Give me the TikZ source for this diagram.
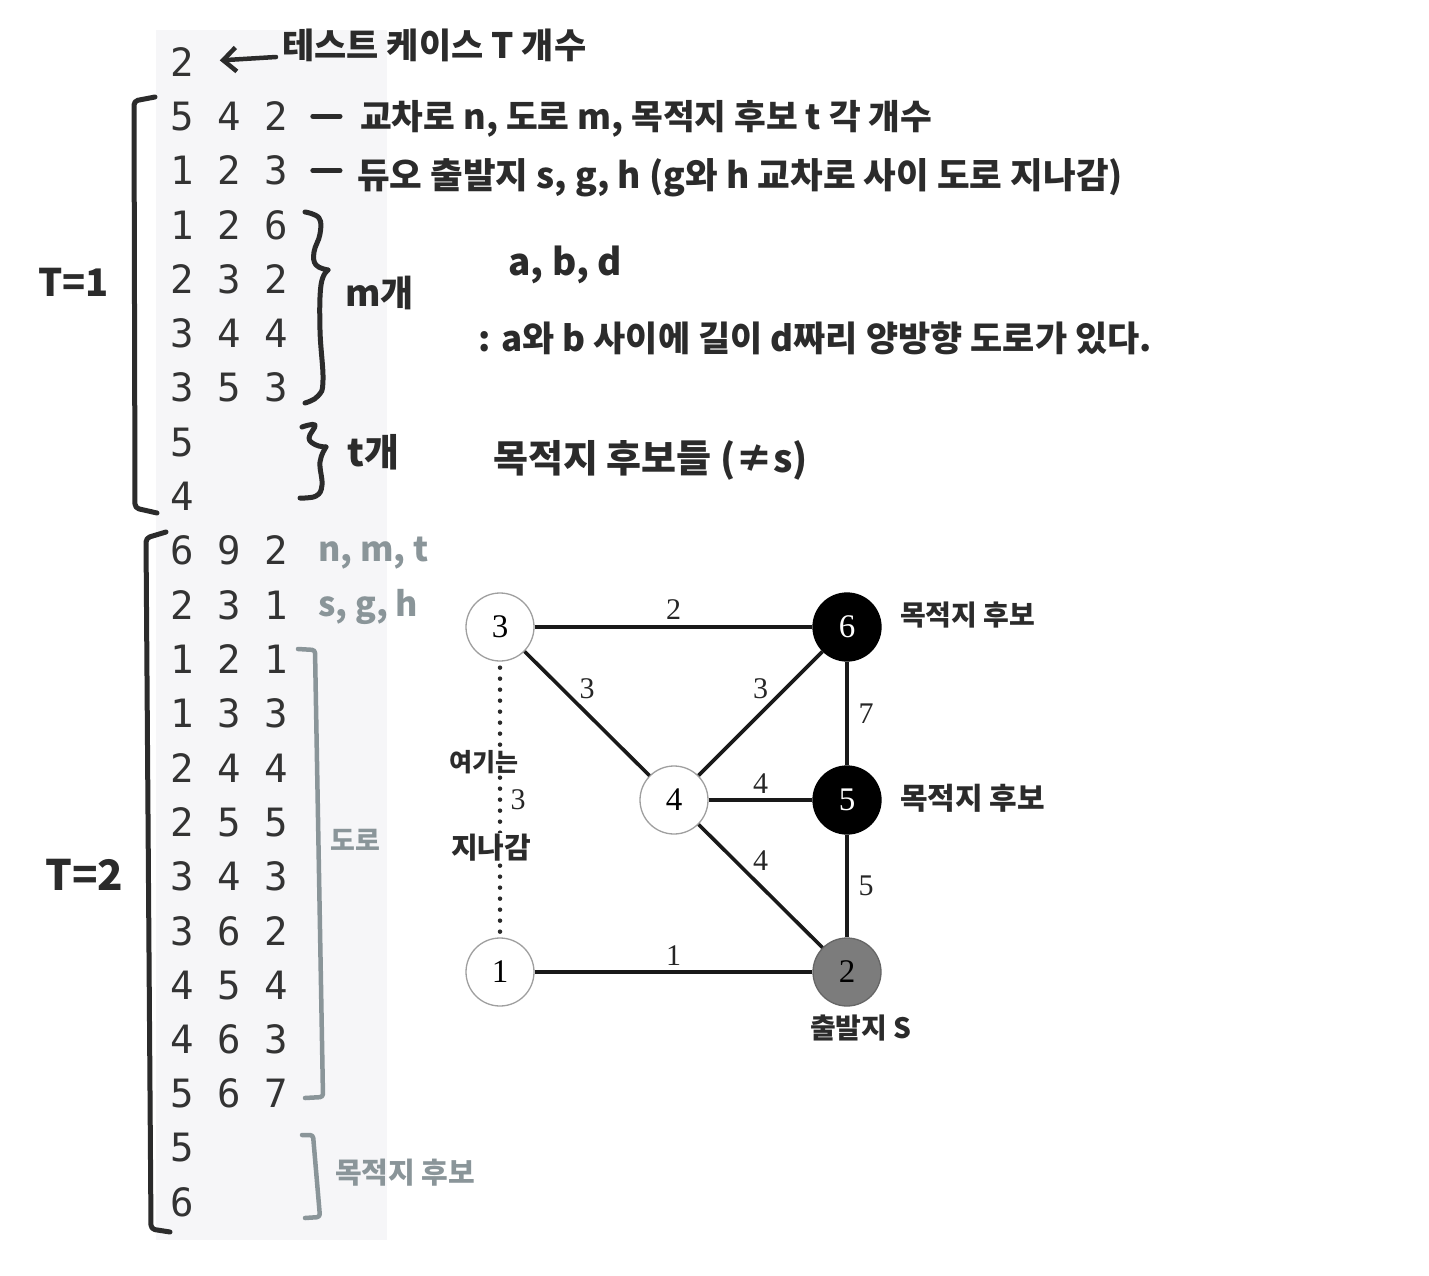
\documentclass[tikz,border=0pt]{standalone}
\usepackage{fontspec}
\usetikzlibrary{arrows.meta,calc}
\newfontfamily\kr{Noto Sans CJK KR}
\newfontfamily\monof{DejaVu Sans Mono}
\newfontfamily\serf{Liberation Serif}
\definecolor{ink}{HTML}{2B2B2B}
\definecolor{digit}{HTML}{333333}
\definecolor{panel}{HTML}{F6F6F8}
\definecolor{grayink}{HTML}{8A9599}
\definecolor{nodegray}{HTML}{7C7C7C}
\newcommand{\fs}[1]{\fontsize{#1}{#1}\selectfont}
\tikzset{
  row/.style={anchor=west,inner sep=0pt,text=digit,font=\monof\fs{39}},
  ann/.style={anchor=west,inner sep=0pt,text=ink,font=\kr\bfseries\fs{#1}},
  gann/.style={anchor=west,inner sep=0pt,text=grayink,font=\kr\bfseries\fs{#1}},
  hand/.style={draw=ink,line width=5pt,line cap=round,line join=round},
  ghand/.style={draw=grayink,line width=4.5pt,line cap=round,line join=round},
  gnode/.style={circle,minimum size=68pt,inner sep=0pt,draw=gray!75,line width=1.3pt,fill=white,font=\serf\fs{33}},
  edge/.style={draw=black!90,line width=3.6pt},
  lbl/.style={inner sep=0pt,font=\serf\fs{30},text=black!85},
}
\begin{document}
\begin{tikzpicture}[x=1pt,y=-1pt]
\useasboundingbox (0,0) rectangle (1429,1276);
\fill[white] (0,0) rectangle (1429,1276);
\fill[panel] (156,30) rectangle (387,1240);

% data rows
\foreach \t [count=\i from 0] in {2,5 4 2,1 2 3,1 2 6,2 3 2,3 4 4,3 5 3,5,4,6 9 2,2 3 1,1 2 1,1 3 3,2 4 4,2 5 5,3 4 3,3 6 2,4 5 4,4 6 3,5 6 7,5,6}
  \node[row] (r\i) at (170,{62+54.3*\i}) {\t};

% top annotations
\node[ann=35] (t0) at (282,45) {테스트 케이스 T 개수};
\draw[ink,line width=4.5pt,line cap=round,-{Straight Barb[length=13pt,width=24pt,line width=4.5pt]},shorten >=26pt] ($(t0.west)+(-6,12)$) -- (r0.east);
\node[ann=34.5] (a1) at (360,119) {교차로 n, 도로 m, 목적지 후보 t 각 개수};
\draw[hand,shorten <=25pt,shorten >=20pt] (r1.east) -- (r1.east -| a1.west);
\node[ann=35.5] (a2) at (357,178) {듀오 출발지 s, g, h (g와 h 교차로 사이 도로 지나감)};
\draw[hand,shorten <=25pt,shorten >=17pt] (r2.east) -- (r2.east -| a2.west);

\node[ann=37] (abd) at (508,265) {a, b, d};
\node[ann=35] (desc) at (478,338) {: a와 b 사이에 길이 d짜리 양방향 도로가 있다.};
\node[ann=36] (mk) at (345,293) {m개};
\node[ann=38] (tk) at (347,452) {t개};
\node[ann=38] (cand) at (493,460) {목적지 후보들 (≠s)};

\node[ann=38] (T1) at (38,282) {T=1};
\node[ann=42] (T2) at (45,875) {T=2};

% gray annotations
\node[gann=34] (nmt) at (318,553) {n, m, t};
\node[gann=34] (sgh) at (318,607) {s, g, h};
\node[gann=27] (road) at (330,840) {도로};
\node[gann=29] (cand2) at (335,1173) {목적지 후보};

% big brackets
\draw[hand,rounded corners=4pt] (155,97) -- (134,101) -- (135,508) -- (157,513);
\draw[hand,rounded corners=4pt] (166,532) -- (146,538) -- (151,1229) -- (170,1232);
% m brace
\draw[hand] plot[smooth,tension=0.7] coordinates {(305,212) (319,218) (320,234) (314,252) (316,265) (328,270)};
\draw[hand] plot[smooth,tension=0.7] coordinates {(328,270) (321,285) (320,330) (323,380) (318,396) (305,403)};
% t brace
\draw[hand] plot[smooth,tension=0.7] coordinates {(302,427) (315,425) (309,438) (316,445) (326,447)};
\draw[hand] plot[smooth,tension=0.7] coordinates {(326,447) (320,462) (322,485) (316,496) (300,498)};
% gray brackets
\draw[ghand,rounded corners=3pt] (298,649) -- (315,650) -- (323,1097) -- (305,1098);
\draw[ghand,rounded corners=3pt] (302,1135) -- (313,1135) -- (320,1217) -- (305,1218);

% graph
\node[gnode] (n3) at (500,627) {3};
\node[gnode,fill=black,draw=black,text=white] (n6) at (847,627) {6};
\node[gnode] (n4) at (674,800) {4};
\node[gnode,fill=black,draw=black,text=white] (n5) at (847,800) {5};
\node[gnode] (n1) at (500,972) {1};
\node[gnode,fill=nodegray,draw=black!60,text=black] (n2) at (847,972) {2};

\draw[edge] (n3) -- node[lbl,yshift=17pt]{2} (n6);
\draw[edge] (n3) -- node[lbl,yshift=25pt]{3} (n4);
\draw[edge] (n4) -- node[lbl,yshift=25pt]{3} (n6);
\draw[edge] (n6) -- node[lbl,xshift=19pt]{7} (n5);
\draw[edge] (n4) -- node[lbl,yshift=16pt]{4} (n5);
\draw[edge] (n4) -- node[lbl,yshift=25pt]{4} (n2);
\draw[edge] (n5) -- node[lbl,xshift=19pt]{5} (n2);
\draw[edge] (n1) -- node[lbl,yshift=16pt]{1} (n2);
\draw[ink,line width=4.5pt,line cap=round,dash pattern=on 0pt off 11pt,shorten <=6pt,shorten >=4pt] (n3) -- node[lbl,xshift=18pt,fill=white,inner sep=1pt]{3} (n1);

\node[ann=28] (g6) at (900,615) {목적지 후보};
\node[ann=30] (g5) at (900,798) {목적지 후보};
\node[ann=28] (g2) at (810,1028) {출발지 S};
\node[ann=25,fill=white,inner sep=1pt] (here1) at (448,762) {여기는};
\node[ann=29,fill=white,inner sep=1pt] (here2) at (450,848) {지나감};
\end{tikzpicture}
\end{document}
